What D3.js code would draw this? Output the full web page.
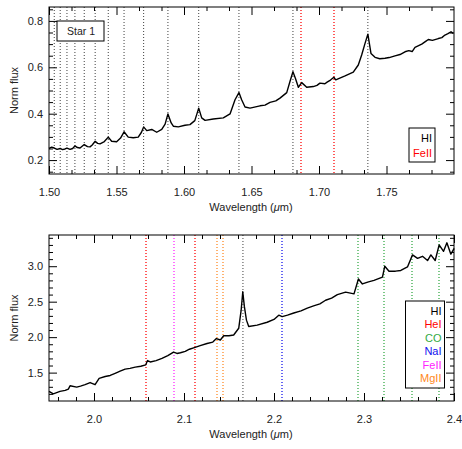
<!DOCTYPE html>
<html>
<head>
<meta charset="utf-8">
<script src="https://cdn.jsdelivr.net/npm/d3@7"></script>
<style>
  body { margin: 0; background: #fff; }
  text { font-family: "Liberation Sans", Arial, sans-serif; fill: #222; }
</style>
</head>
<body>
<div id="chart"></div>
<script>
const width = 462;
const height = 449;

// H band spectrum (wavelength in micron, normalised flux)
const hWave = [1.5000, 1.5020, 1.5039, 1.5060, 1.5083, 1.5100, 1.5119, 1.5133, 1.5156, 1.5175,
    1.5192, 1.5210, 1.5230, 1.5261, 1.5285, 1.5304, 1.5320, 1.5342, 1.5360, 1.5378,
    1.5410, 1.5439, 1.5464, 1.5501, 1.5530, 1.5556, 1.5587, 1.5624, 1.5661, 1.5685,
    1.5701, 1.5724, 1.5761, 1.5798, 1.5835, 1.5860, 1.5881, 1.5905, 1.5921, 1.5958,
    1.6007, 1.6044, 1.6080, 1.6109, 1.6131, 1.6156, 1.6217, 1.6291, 1.6341, 1.6378,
    1.6407, 1.6427, 1.6452, 1.6489, 1.6563, 1.6600, 1.6637, 1.6680, 1.6711, 1.6761,
    1.6785, 1.6807, 1.6825, 1.6847, 1.6872, 1.6909, 1.6958, 1.6985, 1.7007, 1.7044,
    1.7060, 1.7085, 1.7110, 1.7124, 1.7193, 1.7254, 1.7291, 1.7316, 1.7341, 1.7362,
    1.7373, 1.7385, 1.7415, 1.7450, 1.7489, 1.7520, 1.7563, 1.7600, 1.7637, 1.7665,
    1.7690, 1.7711, 1.7761, 1.7790, 1.7810, 1.7840, 1.7884, 1.7910, 1.7933, 1.7955,
    1.7978, 1.7995];
const hFlux = [0.250, 0.256, 0.252, 0.246, 0.250, 0.245, 0.248, 0.252, 0.246, 0.250,
    0.261, 0.254, 0.252, 0.267, 0.258, 0.257, 0.265, 0.281, 0.272, 0.270,
    0.280, 0.299, 0.281, 0.279, 0.295, 0.322, 0.299, 0.296, 0.299, 0.320,
    0.343, 0.327, 0.332, 0.320, 0.332, 0.355, 0.399, 0.360, 0.346, 0.343,
    0.350, 0.353, 0.370, 0.424, 0.382, 0.371, 0.377, 0.382, 0.399, 0.460,
    0.491, 0.460, 0.429, 0.424, 0.434, 0.437, 0.449, 0.455, 0.467, 0.491,
    0.539, 0.581, 0.553, 0.514, 0.534, 0.514, 0.517, 0.522, 0.532, 0.529,
    0.536, 0.545, 0.557, 0.546, 0.563, 0.579, 0.610, 0.653, 0.703, 0.743,
    0.703, 0.660, 0.643, 0.637, 0.639, 0.642, 0.649, 0.655, 0.667, 0.672,
    0.668, 0.686, 0.700, 0.712, 0.720, 0.716, 0.724, 0.728, 0.739, 0.745,
    0.753, 0.746];

// K band spectrum
const kWave = [1.9500, 1.9548, 1.9622, 1.9680, 1.9715, 1.9734, 1.9808, 1.9850, 1.9901, 1.9957,
    2.0012, 2.0057, 2.0124, 2.0180, 2.0235, 2.0290, 2.0346, 2.0400, 2.0458, 2.0520,
    2.0575, 2.0595, 2.0625, 2.0690, 2.0755, 2.0820, 2.0884, 2.0922, 2.0960, 2.1014,
    2.1060, 2.1107, 2.1180, 2.1256, 2.1320, 2.1360, 2.1404, 2.1441, 2.1500, 2.1552,
    2.1608, 2.1635, 2.1653, 2.1671, 2.1694, 2.1719, 2.1813, 2.1924, 2.2000, 2.2053,
    2.2091, 2.2150, 2.2220, 2.2300, 2.2370, 2.2440, 2.2510, 2.2573, 2.2640, 2.2704,
    2.2796, 2.2889, 2.2938, 2.2982, 2.3050, 2.3111, 2.3205, 2.3231, 2.3278, 2.3350,
    2.3409, 2.3483, 2.3539, 2.3595, 2.3650, 2.3706, 2.3743, 2.3791, 2.3835, 2.3884,
    2.3921, 2.3965, 2.4002];
const kFlux = [1.235, 1.200, 1.235, 1.250, 1.268, 1.315, 1.296, 1.310, 1.330, 1.360,
    1.330, 1.420, 1.445, 1.460, 1.490, 1.520, 1.550, 1.560, 1.577, 1.590,
    1.610, 1.670, 1.650, 1.670, 1.700, 1.740, 1.790, 1.770, 1.780, 1.800,
    1.830, 1.850, 1.880, 1.910, 1.930, 1.980, 1.960, 2.020, 2.020, 2.030,
    2.125, 2.380, 2.640, 2.430, 2.240, 2.150, 2.170, 2.210, 2.250, 2.310,
    2.290, 2.310, 2.340, 2.370, 2.410, 2.440, 2.470, 2.520, 2.550, 2.600,
    2.635, 2.610, 2.820, 2.750, 2.780, 2.800, 2.845, 3.000, 2.930, 2.930,
    2.940, 2.990, 3.160, 3.110, 3.140, 3.080, 3.160, 3.080, 3.300, 3.210,
    3.330, 3.170, 3.250];

// line identifications
const hiH = [1.5039, 1.5083, 1.5133, 1.5192, 1.5261, 1.5342, 1.5439, 1.5556, 1.5701,
    1.5881, 1.6109, 1.6407, 1.6807, 1.7362];
const feiiH = [1.6870, 1.7112];
const hiK = [2.1655];
const heiK = [2.0581, 2.1120];
const coK = [2.2935, 2.3227, 2.3535, 2.3829];
const naiK = [2.2088];
const feiiK = [2.0890];
const mgiiK = [2.1372, 2.1434];

const hLegend = ["HI", "FeII"];
const kLegend = ["HI", "HeI", "CO", "NaI", "FeII", "MgII"];

const colors = {
    HI: "#000000",
    HeI: "#ff0000",
    CO: "#33aa44",
    NaI: "#1010ee",
    FeII: "#ff22ff",
    MgII: "#ff8822",
    FeIIh: "#ff0000"
};

const svg = d3.select("#chart")
    .append("svg")
    .attr("width", width)
    .attr("height", height);

function drawPanel(p) {
    const x = d3.scaleLinear().domain(p.xDomain).range([49, 454]);
    const y = d3.scaleLinear().domain(p.yDomain).range([p.bottom, p.top]);
    const g = svg.append("g");

    // dotted line markers; coloured ones a bit wider so the hue survives
    p.lines.forEach(set => {
        const black = set.color === "#000000";
        const px = d => black ? x(d) : Math.round(x(d));
        g.selectAll(null)
            .data(set.waves)
            .join("line")
            .attr("x1", px).attr("x2", px)
            .attr("y1", p.top).attr("y2", p.bottom)
            .attr("stroke", set.color)
            .attr("stroke-width", black ? 1 : 1.6)
            .attr("stroke-dasharray", "1,2")
            .attr("opacity", black ? 0.75 : 0.8);
    });

    // spectrum
    const line = d3.line()
        .x(d => x(d[0]))
        .y(d => y(d[1]));
    g.append("path")
        .datum(d3.zip(p.wave, p.flux))
        .attr("fill", "none")
        .attr("stroke", "#000")
        .attr("stroke-width", 1.4)
        .attr("stroke-linejoin", "round")
        .attr("d", line);

    // axes, ticks inward on all sides
    const addAxis = (axis, transform, labels) => {
        const a = g.append("g").attr("transform", transform).call(axis);
        a.select(".domain").remove();
        a.selectAll("line").attr("stroke", "#000");
        if (!labels) a.selectAll("text").remove();
        return a;
    };
    const xb = addAxis(d3.axisBottom(x).tickValues(p.xMajor).tickSize(-8).tickPadding(14)
        .tickFormat(p.xFormat), `translate(0,${p.bottom})`, true);
    xb.selectAll("text").attr("font-size", 11).attr("fill", "#222");
    addAxis(d3.axisBottom(x).tickValues(p.xMinor).tickSize(-4), `translate(0,${p.bottom})`, false);
    addAxis(d3.axisTop(x).tickValues(p.xMajor).tickSize(-8), `translate(0,${p.top})`, false);
    addAxis(d3.axisTop(x).tickValues(p.xMinor).tickSize(-4), `translate(0,${p.top})`, false);

    const yl = addAxis(d3.axisLeft(y).tickValues(p.yMajor).tickSize(-8).tickPadding(6)
        .tickFormat(p.yFormat), "translate(49,0)", true);
    yl.selectAll("text").attr("font-size", 11).attr("fill", "#222");
    addAxis(d3.axisLeft(y).tickValues(p.yMinor).tickSize(-4), "translate(49,0)", false);
    addAxis(d3.axisRight(y).tickValues(p.yMajor).tickSize(-8), "translate(454,0)", false);
    addAxis(d3.axisRight(y).tickValues(p.yMinor).tickSize(-4), "translate(454,0)", false);

    // frame
    g.append("rect")
        .attr("x", 49).attr("y", p.top)
        .attr("width", 405).attr("height", p.bottom - p.top)
        .attr("fill", "none").attr("stroke", "#000").attr("stroke-width", 1);

    // axis titles
    const xt = g.append("text")
        .attr("x", 251).attr("y", p.bottom + 37)
        .attr("text-anchor", "middle").attr("font-size", 11);
    xt.append("tspan").text("Wavelength (");
    xt.append("tspan").attr("font-style", "italic").text("\u03bc");
    xt.append("tspan").text("m)");

    g.append("text")
        .attr("transform", `translate(18,${(p.top + p.bottom) / 2}) rotate(-90)`)
        .attr("text-anchor", "middle").attr("font-size", 11)
        .text("Norm flux");

    // legend
    const lg = p.legend;
    g.append("rect")
        .attr("x", lg.x).attr("y", lg.y).attr("width", lg.w).attr("height", lg.h)
        .attr("fill", "#fff").attr("stroke", "#000").attr("stroke-width", 1);
    g.selectAll(null)
        .data(lg.items)
        .join("text")
        .attr("x", lg.x + lg.w - 3)
        .attr("y", (d, i) => lg.y + 14 + i * lg.step)
        .attr("text-anchor", "end")
        .attr("font-size", 11)
        .style("fill", d => d.color)
        .text(d => d.name);
}

drawPanel({
    top: 7, bottom: 174,
    xDomain: [1.5, 1.8], yDomain: [0.14, 0.86],
    xMajor: [1.50, 1.55, 1.60, 1.65, 1.70, 1.75],
    xMinor: d3.range(1, 18).map(i => 1.5 + i * 0.05 / 3).filter(v => Math.abs((v - 1.5) / 0.05 - Math.round((v - 1.5) / 0.05)) > 0.01),
    yMajor: [0.2, 0.4, 0.6, 0.8],
    yMinor: [0.15, 0.25, 0.3, 0.35, 0.45, 0.5, 0.55, 0.65, 0.7, 0.75, 0.85],
    xFormat: d3.format(".2f"), yFormat: d3.format(".1f"),
    wave: hWave, flux: hFlux,
    lines: [
        { waves: hiH, color: colors.HI },
        { waves: feiiH, color: colors.FeIIh }
    ],
    legend: {
        x: 409, y: 128, w: 26, h: 34, step: 15,
        items: [{ name: hLegend[0], color: colors.HI }, { name: hLegend[1], color: colors.FeIIh }]
    }
});

drawPanel({
    top: 235, bottom: 401,
    xDomain: [1.95, 2.40], yDomain: [1.1, 3.44],
    xMajor: [2.0, 2.1, 2.2, 2.3, 2.4],
    xMinor: [1.96, 1.98, 2.02, 2.04, 2.06, 2.08, 2.12, 2.14, 2.16, 2.18, 2.22, 2.24, 2.26, 2.28, 2.32, 2.34, 2.36, 2.38],
    yMajor: [1.5, 2.0, 2.5, 3.0],
    yMinor: [1.2, 1.3, 1.4, 1.6, 1.7, 1.8, 1.9, 2.1, 2.2, 2.3, 2.4, 2.6, 2.7, 2.8, 2.9, 3.1, 3.2, 3.3, 3.4],
    xFormat: d3.format(".1f"), yFormat: d3.format(".1f"),
    wave: kWave, flux: kFlux,
    lines: [
        { waves: heiK, color: colors.HeI },
        { waves: feiiK, color: colors.FeII },
        { waves: mgiiK, color: colors.MgII },
        { waves: hiK, color: colors.HI },
        { waves: naiK, color: colors.NaI },
        { waves: coK, color: colors.CO }
    ],
    legend: {
        x: 405.5, y: 301, w: 39, h: 87, step: 13.4,
        items: kLegend.map(n => ({ name: n, color: colors[n] }))
    }
});

// "Star 1" label box
svg.append("rect")
    .attr("x", 57).attr("y", 21).attr("width", 47).attr("height", 20)
    .attr("fill", "#fff").attr("stroke", "#000").attr("stroke-width", 1);
svg.append("text")
    .attr("x", 81).attr("y", 35)
    .attr("text-anchor", "middle").attr("font-size", 10.5)
    .text("Star 1");
</script>
</body>
</html>
